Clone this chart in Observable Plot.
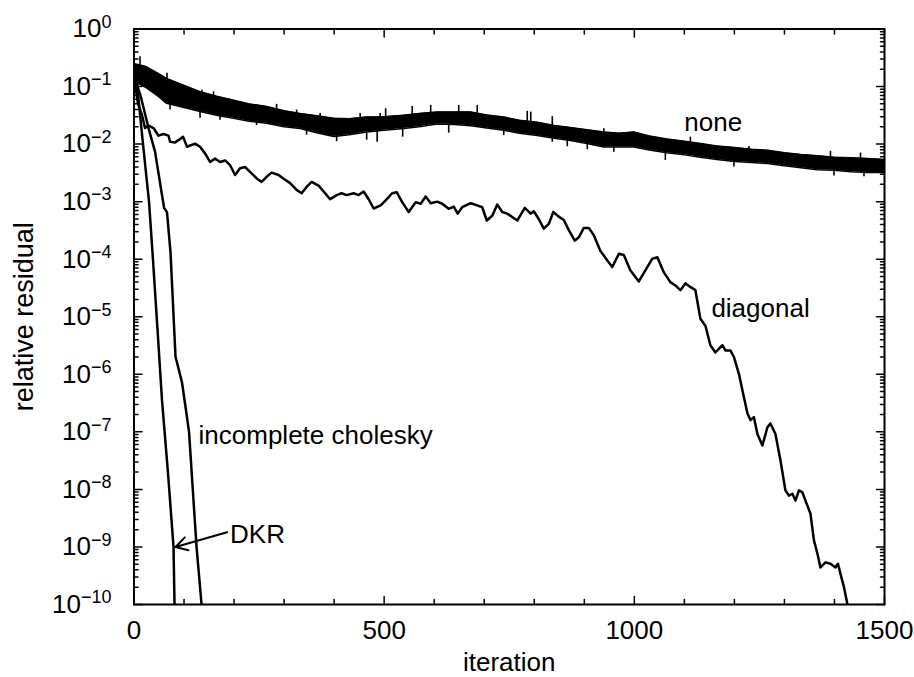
<!DOCTYPE html>
<html>
<head>
<meta charset="utf-8">
<script src="https://cdn.jsdelivr.net/npm/d3@7"></script>
<script src="https://cdn.jsdelivr.net/npm/@observablehq/plot@0.6"></script>
<style>
  html, body { margin: 0; padding: 0; background: #fff; }
  svg { display: block; }
</style>
</head>
<body>
<div id="chart"></div>
<script>
// ---- tick definitions ----
const xMajorTicks = [0, 500, 1000, 1500];
const xMinorTicks = [100, 200, 300, 400, 600, 700, 800, 900, 1100, 1200, 1300, 1400];
const yDecadeTicks = [1e-10, 1e-9, 1e-8, 1e-7, 1e-6, 1e-5, 1e-4, 1e-3, 1e-2, 1e-1, 1];
const yTickExponents = ["\u221210", "\u22129", "\u22128", "\u22127", "\u22126", "\u22125", "\u22124", "\u22123", "\u22122", "\u22121", "0"];
const yMinorMantissas = [2, 3, 4, 5, 6, 7, 8, 9];

// ---- series "none": noisy band (envelope of the oscillation) + visible spikes ----
const noneIter = [0,10,25,50,65,100,132,165,199,230,265,300,332,365,399,430,465,500,539,570,606,640,673,705,739,770,806,840,872,905,939,970,999,1030,1065,1100,1132,1165,1200,1233,1266,1300,1333,1366,1399,1433,1466,1500];
const noneUpper = [0.25,0.24,0.22,0.166,0.138,0.105,0.081,0.068,0.058,0.050,0.045,0.038,0.034,0.031,0.028,0.0275,0.0295,0.030,0.0316,0.034,0.036,0.036,0.036,0.032,0.0295,0.026,0.024,0.021,0.0195,0.0178,0.0162,0.0155,0.0162,0.0138,0.0123,0.0112,0.0102,0.0093,0.0087,0.0081,0.0078,0.0071,0.0066,0.0063,0.0059,0.0058,0.0056,0.0054];
const noneLower = [0.112,0.112,0.095,0.066,0.051,0.043,0.037,0.0316,0.028,0.025,0.023,0.020,0.0186,0.0158,0.0135,0.0145,0.0162,0.0174,0.0186,0.020,0.0224,0.0219,0.0209,0.019,0.0174,0.0155,0.0141,0.0126,0.0115,0.0102,0.0089,0.0089,0.0089,0.0079,0.0071,0.0065,0.0059,0.0054,0.0050,0.0048,0.0046,0.0042,0.0039,0.0036,0.0035,0.0033,0.0032,0.0032];
// [iteration, spike tip, spike base]
const noneSpikes = [
  [12,0.33,0.18],[66,0.17,0.09],[136,0.086,0.055],[159,0.081,0.05],[189,0.062,0.042],[235,0.047,0.035],
  [262,0.044,0.032],[285,0.049,0.03],[325,0.039,0.025],[372,0.034,0.022],[452,0.034,0.02],[492,0.034,0.022],
  [503,0.041,0.024],[556,0.045,0.026],[593,0.047,0.028],[649,0.047,0.028],[686,0.047,0.027],[786,0.037,0.02],
  [793,0.036,0.02],[836,0.030,0.017],[939,0.0185,0.012],[1112,0.0132,0.0085],[1229,0.0091,0.006],
  [1392,0.0075,0.0045],[1452,0.0070,0.0042],
  [72,0.039,0.07],[99,0.042,0.06],[132,0.028,0.05],[172,0.026,0.04],[245,0.021,0.032],[345,0.0143,0.024],
  [405,0.011,0.02],[465,0.0117,0.022],[486,0.0108,0.02],[537,0.0132,0.024],[629,0.0155,0.028],[739,0.0141,0.023],
  [836,0.0108,0.018],[866,0.009,0.015],[906,0.0080,0.013],[959,0.0072,0.011],[1062,0.0052,0.009],
  [1199,0.0040,0.0065],[1399,0.0028,0.0045],[1459,0.0027,0.0045]
];

// ---- other series: [iteration, relative residual] ----
const diagonal = [[0,1.5e-1],[8,5e-2],[16,3.2e-2],[22,1.9e-2],[29,2.1e-2],[39,1.9e-2],[49,1.4e-2],[59,1.5e-2],[69,1.4e-2],[72,1.1e-2],[82,1.07e-2],[89,1.17e-2],[98,1.34e-2],[106,9.0e-3],[122,1.02e-2],[132,9.0e-3],[142,6.9e-3],[152,4.9e-3],[162,5.6e-3],[172,4.9e-3],[182,5.2e-3],[192,4.3e-3],[202,2.9e-3],[212,3.8e-3],[222,4.0e-3],[232,3.3e-3],[246,2.5e-3],[255,2.2e-3],[265,2.7e-3],[275,3.2e-3],[289,2.9e-3],[299,2.5e-3],[312,2.1e-3],[325,1.6e-3],[335,1.4e-3],[345,1.8e-3],[355,2.2e-3],[369,1.9e-3],[379,1.5e-3],[392,1.1e-3],[405,1.3e-3],[415,1.4e-3],[425,1.3e-3],[439,1.4e-3],[449,1.3e-3],[459,1.5e-3],[469,1.1e-3],[479,7.6e-4],[493,8.6e-4],[503,1.05e-3],[516,1.4e-3],[525,1.46e-3],[536,9.8e-4],[549,6.6e-4],[563,9.8e-4],[573,9.2e-4],[583,1.23e-3],[593,9.4e-4],[606,1.0e-3],[616,9.2e-4],[629,7.5e-4],[639,8.2e-4],[647,6.2e-4],[656,8.0e-4],[673,9.4e-4],[686,8.6e-4],[696,8.0e-4],[705,4.7e-4],[716,5.7e-4],[726,8.9e-4],[736,6.6e-4],[746,6.2e-4],[756,5.4e-4],[766,4.7e-4],[781,7.8e-4],[793,6.2e-4],[799,6.8e-4],[809,5.0e-4],[819,3.4e-4],[829,4.1e-4],[838,6.6e-4],[849,5.5e-4],[859,4.8e-4],[869,3.2e-4],[881,2.1e-4],[889,2.4e-4],[899,3.5e-4],[909,3.5e-4],[919,2.6e-4],[932,1.4e-4],[946,9.5e-5],[956,7.3e-5],[969,1.24e-4],[979,1.18e-4],[992,6.4e-5],[1009,4.1e-5],[1022,6.4e-5],[1036,1.02e-4],[1046,1.08e-4],[1059,5.9e-5],[1072,4.0e-5],[1082,3.5e-5],[1092,2.9e-5],[1102,3.8e-5],[1112,3.3e-5],[1122,2.9e-5],[1132,9.2e-6],[1142,7.0e-6],[1152,3.2e-6],[1162,2.4e-6],[1176,3.2e-6],[1182,2.6e-6],[1192,2.6e-6],[1199,2.0e-6],[1209,1.02e-6],[1219,4.0e-7],[1226,2.1e-7],[1232,1.6e-7],[1239,1.8e-7],[1246,9.2e-8],[1256,5.8e-8],[1266,1.2e-7],[1272,1.4e-7],[1282,9.2e-8],[1292,3.2e-8],[1302,9.6e-9],[1309,7.8e-9],[1316,8.4e-9],[1322,6.4e-9],[1329,9.6e-9],[1336,8.9e-9],[1342,6.4e-9],[1352,3.8e-9],[1359,1.3e-9],[1366,7.6e-10],[1372,4.4e-10],[1382,5.4e-10],[1392,5.1e-10],[1402,4.4e-10],[1407,5.1e-10],[1412,3.4e-10],[1419,2.0e-10],[1426,1e-10]];

const incompleteCholesky = [[0,1.5e-1],[13,7.0e-2],[29,1.9e-2],[42,7.4e-3],[60,7.9e-4],[66,6.5e-4],[73,1.3e-4],[83,2.0e-6],[86,1.6e-6],[96,7.2e-7],[103,2.7e-7],[110,1.0e-7],[125,1.0e-9],[135,1e-10]];

const dkr = [[0,1.5e-1],[6,1.1e-1],[18,1.0e-2],[30,1.0e-3],[37,1.3e-4],[47,6.0e-6],[56,3.5e-7],[68,1.9e-8],[79,1.0e-9],[81,1e-10]];

// ---- annotations ----
const seriesLabels = [
  {text: "none", x: 1100, y: 0.024},
  {text: "diagonal", x: 1154, y: 1.37e-5},
  {text: "incomplete cholesky", x: 129, y: 8.6e-8},
  {text: "DKR", x: 192, y: 1.62e-9}
];
const dkrArrow = [{x1: 186, y1: 1.8e-9, x2: 83, y2: 1.0e-9}];

// ---- derived tables ----
const noneBand = noneIter.map((it, i) => ({iter: it, hi: noneUpper[i], lo: noneLower[i]}));
const yMinorTicks = [];
for (const d of yDecadeTicks.slice(0, -1)) for (const m of yMinorMantissas) yMinorTicks.push(m * d);

const tickLine = {draw(context, l) { context.moveTo(0, 0); context.lineTo(0, -l); }};
const tickStyle = {shape: tickLine, anchor: "start", stroke: "black", strokeWidth: 1.5};
const lineW = 2.5;
const font = "'Liberation Sans', Arial, Helvetica, sans-serif";

const plot = Plot.plot({
  width: 914,
  height: 677,
  marginLeft: 133.5,
  marginRight: 30,
  marginTop: 28.5,
  marginBottom: 73,
  style: {fontFamily: font, fontSize: "26px", color: "black", background: "white"},
  x: {domain: [0, 1500]},
  y: {type: "log", domain: [1e-10, 1]},
  marks: [
    // none: noisy band
    Plot.areaY(noneBand, {x: "iter", y1: "lo", y2: "hi", fill: "black", curve: "linear"}),
    Plot.line(noneBand, {x: "iter", y: "hi", stroke: "black", strokeWidth: 1.5}),
    Plot.line(noneBand, {x: "iter", y: "lo", stroke: "black", strokeWidth: 1.5}),
    Plot.ruleX(noneSpikes, {x: d => d[0], y1: d => d[1], y2: d => d[2], stroke: "black", strokeWidth: 1.6}),
    Plot.line(diagonal, {x: d => d[0], y: d => d[1], stroke: "black", strokeWidth: lineW, clip: true}),
    Plot.line(incompleteCholesky, {x: d => d[0], y: d => d[1], stroke: "black", strokeWidth: lineW, clip: true}),
    Plot.line(dkr, {x: d => d[0], y: d => d[1], stroke: "black", strokeWidth: lineW, clip: true}),
    // ticks (inward, on all four sides)
    Plot.vectorX(xMajorTicks, {...tickStyle, frameAnchor: "bottom", rotate: 0, length: 8}),
    Plot.vectorX(xMinorTicks, {...tickStyle, frameAnchor: "bottom", rotate: 0, length: 5}),
    Plot.vectorX(xMajorTicks, {...tickStyle, frameAnchor: "top", rotate: 180, length: 8}),
    Plot.vectorX(xMinorTicks, {...tickStyle, frameAnchor: "top", rotate: 180, length: 5}),
    Plot.vectorY(yDecadeTicks, {...tickStyle, frameAnchor: "left", rotate: 90, length: 8}),
    Plot.vectorY(yMinorTicks, {...tickStyle, frameAnchor: "left", rotate: 90, length: 4}),
    Plot.vectorY(yDecadeTicks, {...tickStyle, frameAnchor: "right", rotate: -90, length: 8}),
    Plot.vectorY(yMinorTicks, {...tickStyle, frameAnchor: "right", rotate: -90, length: 4}),
    Plot.frame({stroke: "black", strokeWidth: 2}),
    // tick labels
    Plot.axisX({ticks: xMajorTicks, tickSize: 0, tickPadding: 16, tickFormat: d => String(d), label: null, fontSize: 26}),
    Plot.axisY({ticks: yDecadeTicks, tickSize: 0, tickPadding: 22.5, tickFormat: d => yTickExponents[yDecadeTicks.indexOf(d)], label: null, fontSize: 26}),
    // axis titles
    Plot.text(["iteration"], {frameAnchor: "bottom", lineAnchor: "middle", textAnchor: "middle", dy: 58.5, text: d => d, fontSize: 26, fill: "black"}),
    Plot.text(["relative residual"], {frameAnchor: "left", lineAnchor: "middle", textAnchor: "middle", rotate: -90, dx: -109.8, text: d => d, fontSize: 27, fill: "black"}),
    // series labels
    Plot.text(seriesLabels, {x: "x", y: "y", text: "text", textAnchor: "start", lineAnchor: "middle", fontSize: 26, fill: "black"}),
    Plot.arrow(dkrArrow, {x1: "x1", y1: "y1", x2: "x2", y2: "y2", stroke: "black", strokeWidth: 2, headLength: 10})
  ]
});

// y tick labels as 10 with superscript exponent
plot.querySelectorAll('g[aria-label="y-axis tick label"] text').forEach(t => {
  const exp = t.textContent;
  t.textContent = "10";
  const ts = document.createElementNS("http://www.w3.org/2000/svg", "tspan");
  ts.setAttribute("dy", "-9.5");
  ts.setAttribute("font-size", "18");
  ts.textContent = exp;
  t.appendChild(ts);
});

document.getElementById("chart").appendChild(plot);
</script>
</body>
</html>
